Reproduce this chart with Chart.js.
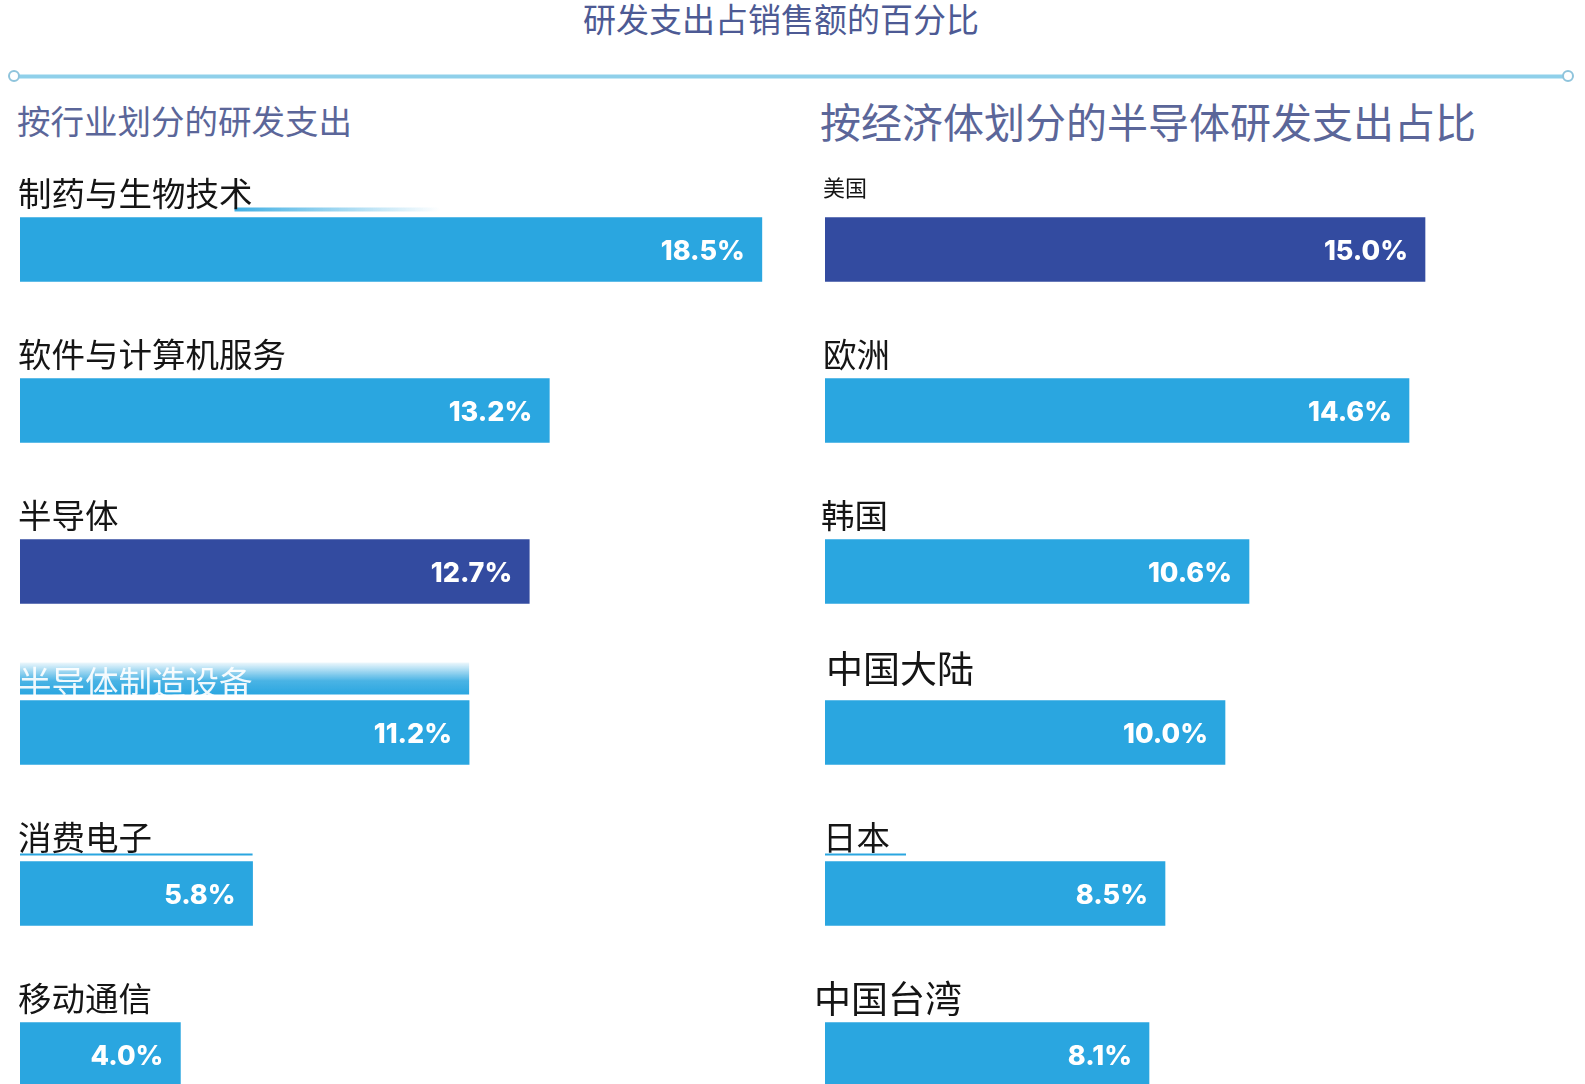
<!DOCTYPE html>
<html>
<head>
<meta charset="utf-8">
<script src="https://cdn.jsdelivr.net/npm/chart.js@4.4.1/dist/chart.umd.min.js"></script>
<style>
  html, body { margin:0; padding:0; background:#fff; width:1585px; height:1084px; overflow:hidden; }
  body { position:relative; font-family:"Noto Sans CJK SC", "Noto Sans", sans-serif; }
  #title { position:absolute; left:0; width:1562px; top:-6px; text-align:center; font-size:33px; color:#4d5a94; }
  #rule { position:absolute; left:19px; top:74px; width:1545px; height:3px; background:#8fd0ea; border-top:1px solid #c6e8f5; border-bottom:1px solid #c6e8f5; }
  .dot { position:absolute; top:70px; width:8px; height:8px; border:2px solid #8fc4dc; border-radius:50%; background:#fff; }
  .sub { position:absolute; color:#5b6699; white-space:nowrap; }
  .wrap { position:absolute; top:0; height:1139px; }
</style>
</head>
<body>
<div id="title">研发支出占销售额的百分比</div>
<div id="rule"></div>
<div class="dot" style="left:8px"></div>
<div class="dot" style="left:1562px"></div>
<div class="sub" style="left:17px; top:95px; font-size:33.5px;">按行业划分的研发支出</div>
<div class="sub" style="left:820px; top:90px; font-size:41px;">按经济体划分的半导体研发支出占比</div>
<div class="wrap" style="left:0; width:805px;"><canvas id="c1"></canvas></div>
<div class="wrap" style="left:805px; width:780px;"><canvas id="c2"></canvas></div>
<script>
// ---- data ----
const industryLabels = ["制药与生物技术", "软件与计算机服务", "半导体", "半导体制造设备", "消费电子", "移动通信"];
const industryValues = [18.5, 13.2, 12.7, 11.2, 5.8, 4.0];
const industryHighlight = [false, false, true, false, false, false];

const economyLabels = ["美国", "欧洲", "韩国", "中国大陆", "日本", "中国台湾"];
const economyValues = [15.0, 14.6, 10.6, 10.0, 8.5, 8.1];
const economyHighlight = [true, false, false, false, false, false];

const LIGHT = "#2aa6e0";
const DARK = "#334ba0";

const barLabelPlugin = {
  id: "barLabels",
  afterDatasetsDraw(chart, args, opts) {
    const ctx = chart.ctx;
    const meta = chart.getDatasetMeta(0);
    const labels = chart.data.labels;
    const values = chart.data.datasets[0].data;
    meta.data.forEach((bar, i) => {
      const p = bar.getProps(["x", "y", "base", "height"], true);
      const top = p.y - p.height / 2;
      const left = p.base;
      const size = (opts.sizes && opts.sizes[i]) || 33;
      const dx = (opts.dx && opts.dx[i]) || 0;
      const dy = (opts.dy && opts.dy[i]) || 0;
      ctx.save();
      ctx.font = size + 'px "Noto Sans CJK SC", sans-serif';
      const tw = ctx.measureText(labels[i]).width;
      // decorative underline / smear
      const ul = opts.underline && opts.underline[i];
      if (ul === "bar" || ul === "text") {
        ctx.fillStyle = LIGHT;
        ctx.fillRect(left, top - 8, ul === "bar" ? (p.x - left) : tw + 14, 2);
      } else if (ul === "fade") {
        const g = ctx.createLinearGradient(left + tw - 20, 0, left + 420, 0);
        g.addColorStop(0, "rgba(42,166,224,0.9)");
        g.addColorStop(1, "rgba(42,166,224,0)");
        ctx.fillStyle = g;
        ctx.fillRect(left + tw - 20, top - 10, 440 - tw, 4);
      }
      if (opts.band && opts.band[i]) {
        const g = ctx.createLinearGradient(0, top - 40, 0, top - 6);
        g.addColorStop(0, "rgba(42,166,224,0)");
        g.addColorStop(0.6, "rgba(42,166,224,0.85)");
        g.addColorStop(1, LIGHT);
        ctx.fillStyle = g;
        ctx.fillRect(left, top - 38, p.x - left, 32);
        ctx.fillStyle = "rgba(255,255,255,0.92)";
      } else {
        ctx.fillStyle = "#151515";
      }
      ctx.textAlign = "left";
      ctx.textBaseline = "alphabetic";
      ctx.fillText(labels[i], left - 2 + dx, top - 12 + dy);
      // value label inside bar
      ctx.fillStyle = "#ffffff";
      ctx.font = '800 27px Inter, Lato, sans-serif';
      ctx.textAlign = "right";
      ctx.textBaseline = "middle";
      ctx.fillText(values[i].toFixed(1) + "%", p.x - 17, p.y + 2);
      ctx.restore();
    });
  }
};

function makeChart(id, labels, values, highlight, xmax, pluginOpts) {
  return new Chart(document.getElementById(id), {
    type: "bar",
    data: {
      labels: labels,
      datasets: [{
        data: values,
        backgroundColor: highlight.map(h => h ? DARK : LIGHT),
        borderWidth: 0,
        barThickness: 64
      }]
    },
    options: {
      indexAxis: "y",
      responsive: true,
      maintainAspectRatio: false,
      animation: false,
      layout: { padding: { left: 20, right: 0, top: 169, bottom: 4 } },
      scales: {
        x: { display: false, min: 0, max: xmax },
        y: { display: false }
      },
      plugins: {
        legend: { display: false },
        tooltip: { enabled: false },
        barLabels: pluginOpts
      }
    },
    plugins: [barLabelPlugin]
  });
}

makeChart("c1", industryLabels, industryValues, industryHighlight, 785 / 40.1,
  { sizes: [33.5, 33.5, 33.5, 33.5, 33.5, 33.5],
    band: [false, false, false, true, false, false],
    underline: ["fade", null, null, null, "bar", null],
    dy: [0, 0, 0, 6, 0, 0] });
makeChart("c2", economyLabels, economyValues, economyHighlight, 760 / 40.0,
  { sizes: [22, 33.5, 33.5, 37, 33.5, 37],
    underline: [null, null, null, null, "text", null],
    dx: [0, 0, -2, 3, 0, -9], dy: [-10, 0, 0, -6, 0, 2] });
</script>
</body>
</html>
